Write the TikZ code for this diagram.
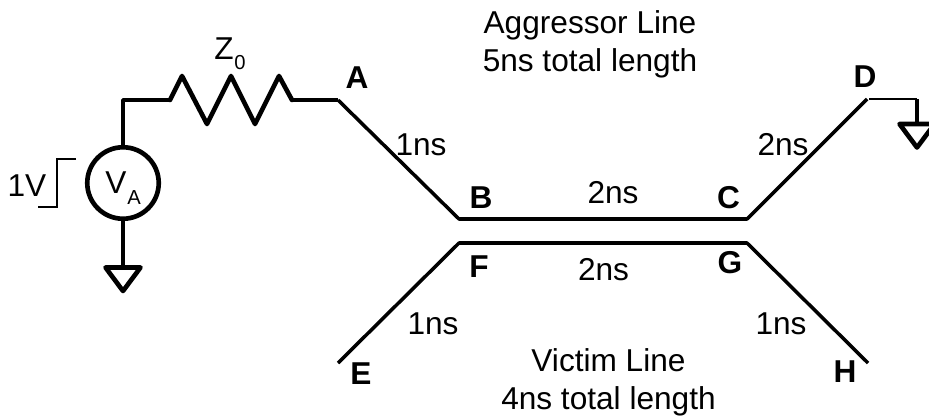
\documentclass[tikz,border=0pt]{standalone}
\usepackage{fontspec}
\setmainfont{Liberation Sans}
\usetikzlibrary{arrows}
\begin{document}
\begin{tikzpicture}[x=0.02cm,y=-0.02cm]
\tikzstyle{every node}+=[inner sep=0pt]
\tikzstyle{lbl}=[font=\fontsize{18}{21.5}\selectfont,align=center,anchor=base]
\tikzstyle{sublbl}=[font=\fontsize{11.5}{13}\selectfont,anchor=base]
\tikzstyle{block}=[font=\fontsize{18}{21.5}\selectfont,align=center]
\tikzstyle{pin}=[font=\fontsize{18}{21.5}\selectfont\bfseries,anchor=base]
\tikzstyle{wire}=[line width=2pt,line join=round]
\tikzstyle{heavy}=[line width=2.65pt,line join=round,line cap=round]
\tikzstyle{fine}=[line width=0.9pt]
\clip (0,0) rectangle (929,416);
\useasboundingbox (0,0) rectangle (929,416);
% source and resistor
\node (va) [circle,draw,line width=2.65pt,minimum size=1.43cm,block] at (123,183) {};
\coordinate (corner) at (123,100);
\coordinate (rl) at (170,100);
\coordinate (rr) at (292,100);
\coordinate (a) at (338,100);
\coordinate (b) at (459,219);
\coordinate (c) at (747,219);
\coordinate (d) at (867,99);
\coordinate (f) at (459,243);
\coordinate (g) at (747,243);
\coordinate (e) at (338,363);
\coordinate (h) at (868,363);
\coordinate (gnda) at (123,267);
\coordinate (gndd) at (917,123);
\coordinate (dd) at (869,99);
\coordinate (dt) at (917,99);
\draw [wire] (va) -- (corner) -- (rl);
\draw [heavy] (rl) -- (182,76) -- (207,124) -- (231,76) -- (255,124) -- (279,76) -- (rr);
\draw [wire] (rr) -- (a);
\draw [wire] (va) -- (gnda);
\draw [heavy] (105.5,267.5) -- (140.5,267.5) -- (123,291) -- cycle;
% lines
\draw [wire] (a) -- (b) -- (c) -- (d);
\draw [wire] (e) -- (f) -- (g) -- (h);
\draw [fine] (dd) -- (dt);
\draw [wire] (dt) -- (gndd);
\draw [heavy] (899.5,124) -- (934.5,124) -- (917,147.5) -- cycle;
% step
\draw [fine] (76,159) -- (57,159) -- (57,207) -- (38,207);
% labels
\node (v) [lbl] at (116,193) {V};
\node (vsub) [sublbl] at (134,204) {A};
\node (z) [lbl] at (224,59) {Z};
\node (zsub) [sublbl] at (240,69) {0};
\node (v1) [lbl] at (27,196) {1V};
\node (la) [pin] at (357,88) {A};
\node (lb) [pin] at (481,208) {B};
\node (lc) [pin] at (728.5,208) {C};
\node (ld) [pin] at (865,87) {D};
\node (lf) [pin] at (479,277) {F};
\node (lg) [pin] at (730,273) {G};
\node (le) [pin] at (361,384) {E};
\node (lh) [pin] at (845,382) {H};
\node (t1) [lbl] at (421,155) {1ns};
\node (t2) [lbl] at (613,203) {2ns};
\node (t3) [lbl] at (783,155) {2ns};
\node (t4) [lbl] at (603.5,280) {2ns};
\node (t5) [lbl] at (433,334) {1ns};
\node (t6) [lbl] at (781,334) {1ns};
\node (agg) [block] at (590,44) {Aggressor Line\\5ns total length};
\node (vic) [block] at (608.5,382) {Victim Line\\4ns total length};
\end{tikzpicture}
\end{document}
